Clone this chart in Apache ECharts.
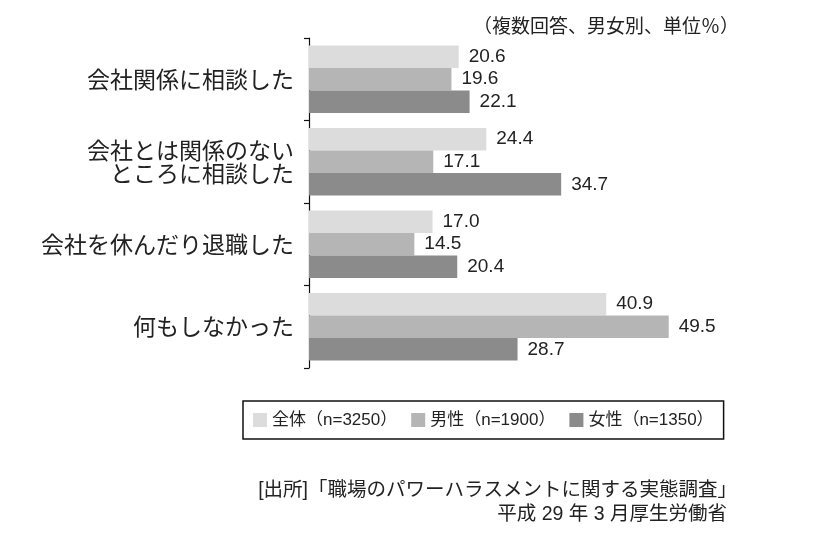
<!DOCTYPE html>
<html>
<head>
<meta charset="utf-8">
<script src="https://cdn.jsdelivr.net/npm/echarts@6/dist/echarts.min.js"></script>
<style>
html,body{margin:0;padding:0;background:#fff;}
#chart{width:819px;height:547px;}
</style>
</head>
<body>
<div id="chart"></div>
<script>
const categories = ['会社関係に相談した', '会社とは関係のない\nところに相談した', '会社を休んだり退職した', '何もしなかった'];
const seriesNames = ['全体（n=3250）', '男性（n=1900）', '女性（n=1350）'];
const allValues = [20.6, 24.4, 17.0, 40.9];
const maleValues = [19.6, 17.1, 14.5, 49.5];
const femaleValues = [22.1, 34.7, 20.4, 28.7];
const noteText = '（複数回答、男女別、単位％）';
const sourceLine1 = '[出所]「職場のパワーハラスメントに関する実態調査」';
const sourceLine2 = '平成 29 年 3 月厚生労働省';

const colors = ['#dcdcdc', '#b5b5b5', '#8b8b8b'];
const cjk = '"Noto Sans CJK JP"';
const mixed = '"Liberation Sans", "Noto Sans CJK JP"';
const textColor = '#222';

const chart = echarts.init(document.getElementById('chart'));
const values = [allValues, maleValues, femaleValues];

chart.setOption({
  animation: false,
  backgroundColor: '#fff',
  color: colors,
  grid: { left: 309, top: 38, right: 74, bottom: 179, containLabel: false },
  xAxis: {
    type: 'value', min: 0, max: 60, show: false
  },
  yAxis: {
    type: 'category',
    data: categories,
    inverse: true,
    axisLine: { show: true, lineStyle: { color: '#111', width: 1.2 } },
    axisTick: { show: true, length: 5, lineStyle: { color: '#111', width: 1.2 } },
    axisLabel: {
      margin: 15,
      fontFamily: cjk,
      fontSize: 23,
      lineHeight: 23,
      color: textColor,
      align: 'right'
    }
  },
  legend: {
    data: seriesNames,
    left: 243,
    top: 401,
    orient: 'horizontal',
    icon: 'rect',
    itemWidth: 14,
    itemHeight: 14,
    itemGap: 14,
    padding: [10, 10, 10, 10],
    borderColor: '#111',
    borderWidth: 1.5,
    textStyle: { fontFamily: mixed, fontSize: 17, color: textColor, lineHeight: 18 }
  },
  series: seriesNames.map((name, i) => ({
    name: name,
    type: 'bar',
    data: values[i],
    barGap: '0%',
    barCategoryGap: '18%',
    itemStyle: { color: colors[i] },
    label: {
      show: true,
      position: 'right',
      distance: 10,
      fontFamily: mixed,
      fontSize: 19,
      color: textColor,
      formatter: p => p.value.toFixed(1)
    }
  })),
  graphic: [
    {
      type: 'text', right: 80, top: 16,
      style: { text: noteText, font: '19px ' + cjk, fill: textColor }
    },
    {
      type: 'text', right: 82, top: 481,
      style: { text: sourceLine1, font: '19.5px ' + mixed, fill: textColor }
    },
    {
      type: 'text', right: 92, top: 505,
      style: { text: sourceLine2, font: '19.5px ' + mixed, fill: textColor }
    }
  ]
});
</script>
</body>
</html>
